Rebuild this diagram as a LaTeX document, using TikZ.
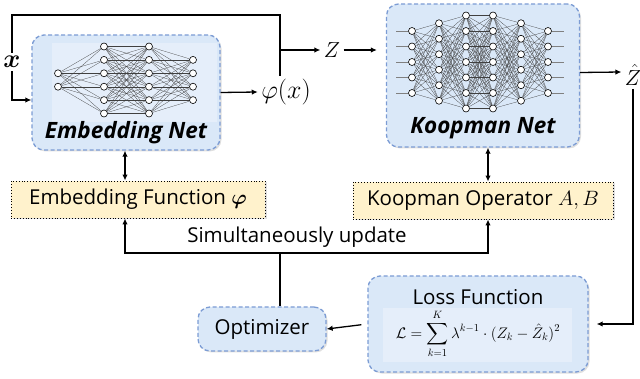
\documentclass[tikz,border=0pt]{standalone}
\usepackage{fontspec}
\setmainfont{Open Sans}
\usepackage{amsmath}
\usepackage{bm}
\usetikzlibrary{arrows.meta,shadows}

\definecolor{netfill}{RGB}{218,232,248}
\definecolor{netline}{RGB}{124,156,212}
\definecolor{funcfill}{RGB}{255,242,204}

\tikzset{
  netbox/.style={draw=netline, dash pattern=on 4pt off 2.5pt, line width=1.3pt,
    rounded corners=12pt, fill=netfill,
    drop shadow={opacity=0.25, shadow xshift=1.5pt, shadow yshift=-1.5pt}},
  funcbox/.style={draw=black, dotted, line width=0.9pt, fill=funcfill,
    drop shadow={opacity=0.25, shadow xshift=1.5pt, shadow yshift=-1.5pt}},
  neuron/.style={circle, draw, fill=white, line width=0.6pt, inner sep=0pt, minimum size=7pt},
  synapse/.style={line width=0.25pt, black!75},
  conn/.style={line width=1.3pt},
  arr/.style={-{Latex[length=6pt,width=5.5pt]}, line width=1.3pt},
  biarr/.style={{Latex[length=6pt,width=5.5pt]}-{Latex[length=6pt,width=5.5pt]}, line width=1.3pt},
  txt/.style={font=\fontsize{20.5}{24}\selectfont},
  nettitle/.style={font=\bfseries\itshape\fontsize{22.5}{26}\selectfont},
  mathtxt/.style={font=\fontsize{20.74}{25}\selectfont}
}

\begin{document}
\begin{tikzpicture}[x=1pt, y=-1pt]
  \useasboundingbox (0,0) rectangle (640,379);

  % boxes
  \node[netbox, minimum width=188pt, minimum height=115pt] (embnet) at (126,92.5) {};
  \node[netbox, minimum width=193pt, minimum height=143pt] (koopnet) at (483,75.5) {};
  \node[funcbox, minimum width=254pt, minimum height=37pt, txt] (embfun) at (138,199.5) {Embedding Function $\bm{\varphi}$};
  \node[funcbox, minimum width=260pt, minimum height=37pt, txt] (koopop) at (483,200.5) {Koopman Operator $A, B$};
  \node[netbox, minimum width=128pt, minimum height=44pt, txt] (opt) at (262,329) {Optimizer};
  \node[netbox, minimum width=220pt, minimum height=96pt] (loss) at (478,324) {};
  \fill[white, opacity=0.3] (52,43) rectangle (217,122);
  \fill[white, opacity=0.3] (383,308) rectangle (572,362);
  \node[txt] (losstitle) at (478,297) {Loss Function};
  \node[font=\fontsize{14.4}{16}\selectfont] (lossexpr) at (478,334)
    {\scalebox{1.06}{$\displaystyle \mathcal{L}=\sum_{k=1}^{K}\lambda^{k-1}\cdot(Z_k-\hat{Z}_k)^2$}};

  % embedding network
  \foreach \l/\x/\n in {1/58/2, 2/104/6, 3/149/6, 4/193/4}
    \foreach \i in {1,...,\n}
      \node[neuron] (e\l-\i) at (\x,{80+(\i-(\n+1)/2)*13.4}) {};
  \foreach \l/\n/\m in {1/2/6, 2/6/6, 3/6/4} {
    \pgfmathtruncatemacro\nxt{\l+1}
    \foreach \i in {1,...,\n}
      \foreach \j in {1,...,\m}
        \draw[synapse] (e\l-\i) -- (e\nxt-\j);
  }
  \node[nettitle] (embtitle) at (126,133) {Embedding Net};

  % koopman network
  \foreach \l/\x/\n in {1/412/5, 2/439/6, 3/466/7, 4/493/7, 5/521/6, 6/548/5}
    \foreach \i in {1,...,\n}
      \node[neuron] (k\l-\i) at (\x,{62+(\i-(\n+1)/2)*15.5}) {};
  \foreach \l/\n/\m in {1/5/6, 2/6/7, 3/7/7, 4/7/6, 5/6/5} {
    \pgfmathtruncatemacro\nxt{\l+1}
    \foreach \i in {1,...,\n}
      \foreach \j in {1,...,\m}
        \draw[synapse] (k\l-\i) -- (k\nxt-\j);
  }
  \foreach \i in {1,...,5} {
    \draw[synapse, gray] (k1-\i.west) -- ++(-12,0);
    \draw[synapse, gray] (k6-\i.east) -- ++(12,0);
  }
  \node[nettitle] (kooptitle) at (483,128) {Koopman Net};

  % signals
  \node[mathtxt] (xin) at (12,62) {\scalebox{1.25}{$\bm{x}$}};
  \node[mathtxt] (phi) at (286,92) {\scalebox{1.25}{$\varphi(x)$}};
  \node[mathtxt] (zin) at (332,50) {\scalebox{1.05}{$Z$}};
  \node[mathtxt] (zout) at (633,75) {\scalebox{1.05}{$\hat{Z}$}};
  \coordinate (topr) at (280,15);
  \coordinate (jn) at (280,50);
  \coordinate (bus) at (280,253);

  \draw[conn] (xin.north) |- (topr) -- (topr |- phi.north);
  \draw[arr] (jn) -- (zin.west);
  \draw[arr] (xin.south) |- ([yshift=-7.5pt]embnet.west);
  \draw[arr] (embnet.east) -- (phi.west);
  \draw[arr, shorten >=9pt] (zin.east) -- (zin.east -| koopnet.west);
  \draw[arr] ([yshift=3pt]koopnet.east) -- ([yshift=3pt]zout.west);
  \draw[arr, shorten >=8pt] (zout.south) |- (loss.east);
  \draw[arr, shorten <=6pt] (loss.west) -- (opt.east);

  \draw[biarr] ([xshift=-1pt]embnet.south) -- ([xshift=-1pt]embnet.south |- embfun.north);
  \draw[biarr] ([xshift=5pt]koopnet.south) -- ([xshift=5pt]koopnet.south |- koopop.north);
  \draw[biarr] ([xshift=-1pt]embnet.south |- embfun.south) |- (bus)
    -| ([xshift=5pt]koopnet.south |- koopop.south);
  \draw[conn] (bus) -- (bus |- opt.north);
  \node[txt] (updlabel) at (297,237) {Simultaneously update};
\end{tikzpicture}
\end{document}
